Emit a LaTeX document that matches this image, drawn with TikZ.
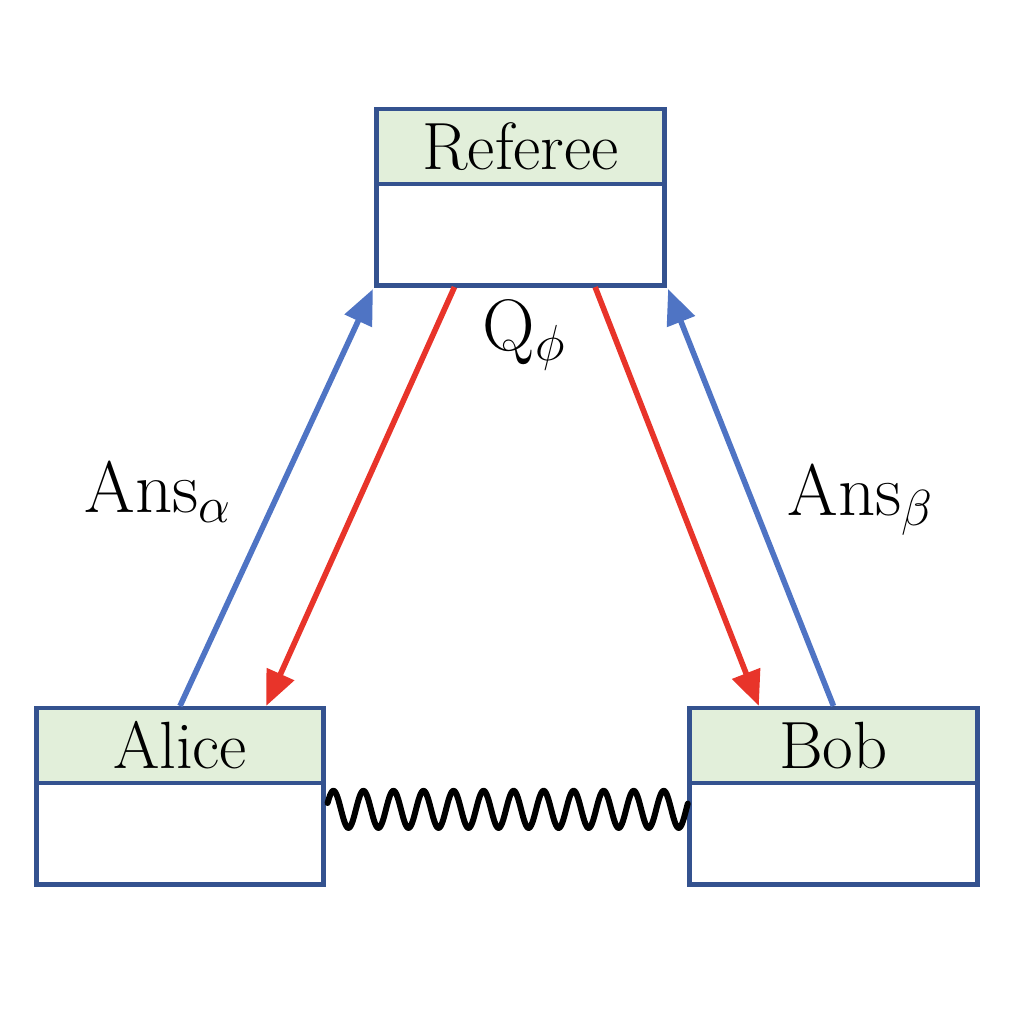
\documentclass[tikz,border=0pt]{standalone}
\usetikzlibrary{arrows.meta,positioning,calc}
\definecolor{boxblue}{HTML}{34528F}
\definecolor{hdrgreen}{HTML}{E2EFDA}
\definecolor{arrblue}{HTML}{4F74C4}
\definecolor{arrred}{HTML}{E8342A}
\tikzset{
  hdr/.style={draw=boxblue, fill=hdrgreen, line width=1.4pt, outer sep=0pt, minimum width=2.87cm, minimum height=0.75cm, inner sep=0pt, font=\fontsize{19}{22}\selectfont},
  body/.style={draw=boxblue, fill=white, line width=1.4pt, outer sep=0pt, minimum width=2.87cm, minimum height=1.01cm, inner sep=0pt, anchor=north},
  conn/.style={line width=1.6pt, -{Triangle[length=0.35cm,width=0.29cm]}},
  lbl/.style={font=\fontsize{22.5}{26}\selectfont, inner sep=0pt, anchor=base west},
  wave/.style={line width=1.7pt, line cap=round},
}
\begin{document}
\begin{tikzpicture}[x=0.01cm,y=-0.01cm]
\useasboundingbox (0,0) rectangle (1012,1012);
\node[hdr] (ref) at (520.5,146.5) {Referee};
\node[body] (refb) at (ref.south) {};
\node[hdr] (alice) at (180,745.5) {Alice};
\node[body] (aliceb) at (alice.south) {};
\node[hdr] (bob) at (833.5,745.5) {Bob};
\node[body] (bobb) at (bob.south) {};

\coordinate (r1) at ($(refb.south west)!0.27!(refb.south east)$);
\coordinate (r2) at ($(refb.south west)!0.76!(refb.south east)$);
\coordinate (a1) at ($(alice.north west)!0.80!(alice.north east)$);
\coordinate (b1) at ($(bob.north west)!0.24!(bob.north east)$);
\coordinate (rl) at ($(refb.south west)+(-4,4)$);
\coordinate (rr) at ($(refb.south east)+(4,4)$);

\draw[conn, arrblue] ($(alice.north)+(0,-2)$) -- (rl);
\draw[conn, arrred] ($(r1)+(0,2)$) -- ($(a1)+(0,-2)$);
\draw[conn, arrred] ($(r2)+(0,2)$) -- ($(b1)+(0,-2)$);
\draw[conn, arrblue] ($(bob.north)+(0,-2)$) -- (rr);

\node[lbl] (q) at (482,350) {$\mathrm{Q}_\phi$};
\node[lbl] (ansa) at (84,512) {$\mathrm{Ans}_\alpha$};
\node[lbl] (ansb) at (787,515) {$\mathrm{Ans}_\beta$};

\coordinate (wl) at ($(aliceb.north east)+(4,20)$);
\coordinate (wr) at ($(bobb.north west)+(-2,20)$);
\draw[wave] let \p1=(wl), \p2=(wr) in
  plot[variable=\t, domain=0:1, samples=600, smooth]
  ({\x1+\t*(\x2-\x1)}, {\y1+0.185cm*sin(12*360*\t+20)-0.185cm*sin(20)});
\end{tikzpicture}
\end{document}
